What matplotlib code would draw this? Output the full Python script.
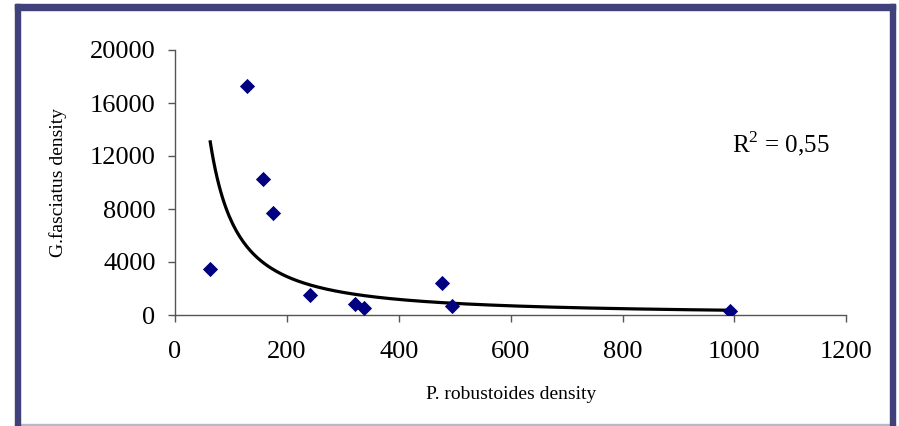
import matplotlib.pyplot as plt
import matplotlib.patches as patches
import numpy as np

# P. robustoides density vs G. fasciatus density
robustoides = np.array([63, 128, 158, 175, 241, 321, 337, 478, 495, 992])
fasciatus = np.array([3500, 17300, 10300, 7700, 1500, 800, 500, 2450, 680, 300])
r2_label = r'R$^{\mathrm{2}}$ = 0,55'

plt.rcParams['font.family'] = ['Liberation Serif', 'DejaVu Serif']
plt.rcParams['mathtext.fontset'] = 'custom'
plt.rcParams['mathtext.rm'] = 'Liberation Serif'

fig = plt.figure(figsize=(8.99, 4.26), dpi=100)
ax = fig.add_axes([175/899, 1 - 315/426, (846.3 - 175)/899, (315 - 50)/426])

ax.scatter(robustoides, fasciatus, marker='D', s=60, color='#000080', zorder=3, linewidths=0)

# power trend line (fit in log-log space)
b, ln_a = np.polyfit(np.log(robustoides), np.log(fasciatus), 1)
xs = np.linspace(robustoides.min(), robustoides.max(), 300)
ax.plot(xs, np.exp(ln_a) * xs ** b, color='black', lw=2.3, zorder=2)

ax.set_xlim(0, 1200)
ax.set_ylim(0, 20000)
ax.set_xticks(np.arange(0, 1201, 200))
ax.set_yticks(np.arange(0, 20001, 4000))
for s in ['top', 'right']:
    ax.spines[s].set_visible(False)
for s in ['left', 'bottom']:
    ax.spines[s].set_color('#555555')
    ax.spines[s].set_linewidth(1)
ax.tick_params(axis='both', direction='out', length=5, width=1, color='#555555', labelsize=19)
ax.tick_params(axis='y', pad=9)
ax.tick_params(axis='x', pad=14)

ax.set_xlabel('P. robustoides density', fontsize=14, labelpad=16)
ax.set_ylabel('G.fasciatus density', fontsize=14, labelpad=16)
ax.text(0.83, 0.615, r2_label, transform=ax.transAxes, fontsize=18, ha='left', va='baseline')

# frame around the chart
W, H = 899, 426
frame_col = '#40407a'
fig.patches.append(patches.Rectangle((15/W, 0), 5/W, (H - 4)/H, transform=fig.transFigure,
                                     color=frame_col, zorder=10))
fig.patches.append(patches.Rectangle((15/W, (H - 10)/H), 880/W, 6/H, transform=fig.transFigure,
                                     color=frame_col, zorder=10))
fig.patches.append(patches.Rectangle((890/W, 0), 5/W, (H - 4)/H, transform=fig.transFigure,
                                     color=frame_col, zorder=10))
fig.patches.append(patches.Rectangle((15/W, 1/H), 880/W, 1.5/H, transform=fig.transFigure,
                                     color='#b8b8c8', zorder=9))

fig.savefig('out.png', dpi=100)
